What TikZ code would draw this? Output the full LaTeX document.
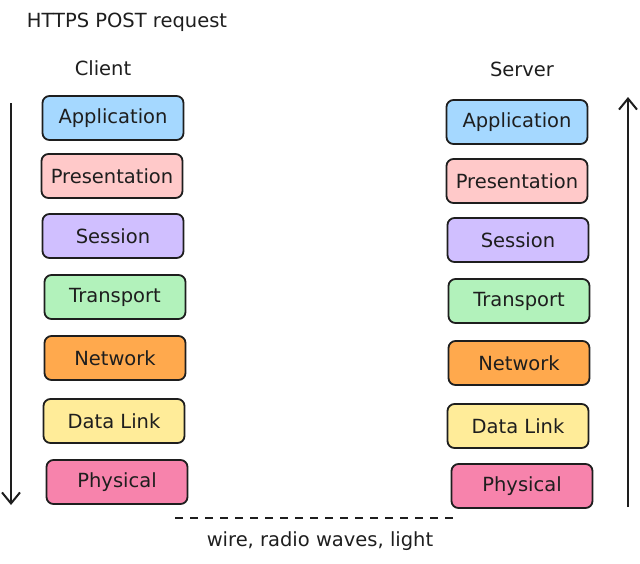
\documentclass[tikz,border=0pt]{standalone}
\usepackage{fontspec}
\setmainfont{DejaVu Sans}
\usetikzlibrary{arrows.meta}

\definecolor{ink}{HTML}{1E1E1E}
\definecolor{appblue}{HTML}{A5D8FF}
\definecolor{prespink}{HTML}{FFC9C9}
\definecolor{sesspurple}{HTML}{D0BFFF}
\definecolor{transgreen}{HTML}{B2F2BB}
\definecolor{netorange}{HTML}{FFA94D}
\definecolor{linkyellow}{HTML}{FFEC99}
\definecolor{physpink}{HTML}{F783AC}

\tikzset{
    layer/.style={draw=ink, line width=1.8pt, rounded corners=7pt,
        minimum width=141pt, minimum height=44pt,
        font=\fontsize{19.5}{22}\selectfont, text=ink},
    caption/.style={font=\fontsize{19.5}{22}\selectfont, text=ink},
    flow/.style={draw=ink, line width=2pt, -{Straight Barb[length=11pt,width=18pt,line width=2pt]}}
}

\begin{document}
\begin{tikzpicture}[x=1pt,y=-1pt]
    \useasboundingbox (0,0) rectangle (640,563);

    \node[caption] (title) at (127,22) {HTTPS POST request};
    \node[caption] (client) at (103,68) {Client};
    \node[caption] (server) at (522,69) {Server};

    % client stack
    \node[layer, fill=appblue] (cApp) at (113,118) {Application};
    \node[layer, fill=prespink] (cPres) at (112,176) {Presentation};
    \node[layer, fill=sesspurple] (cSess) at (113,236) {Session};
    \node[layer, fill=transgreen] (cTrans) at (115,297) {Transport};
    \node[layer, fill=netorange] (cNet) at (115,358) {Network};
    \node[layer, fill=linkyellow] (cLink) at (114,421) {Data Link};
    \node[layer, fill=physpink] (cPhys) at (117,482) {Physical};

    % server stack
    \node[layer, fill=appblue] (sApp) at (517,122) {Application};
    \node[layer, fill=prespink] (sPres) at (517,181) {Presentation};
    \node[layer, fill=sesspurple] (sSess) at (518,240) {Session};
    \node[layer, fill=transgreen] (sTrans) at (519,301) {Transport};
    \node[layer, fill=netorange] (sNet) at (519,363) {Network};
    \node[layer, fill=linkyellow] (sLink) at (518,426) {Data Link};
    \node[layer, fill=physpink] (sPhys) at (522,486) {Physical};

    % direction of travel
    \coordinate (downTop) at (11,103);
    \coordinate (downEnd) at (11,505);
    \coordinate (upStart) at (628,507);
    \coordinate (upEnd) at (628,97);
    \draw[flow] (downTop) -- (downEnd);
    \draw[flow] (upStart) -- (upEnd);

    % medium
    \coordinate (wireA) at (175,518);
    \coordinate (wireB) at (456,518);
    \draw[draw=ink, line width=1.8pt, dash pattern=on 8pt off 7pt] (wireA) -- (wireB);
    \node[caption] (medium) at (320,541) {wire, radio waves, light};

\end{tikzpicture}
\end{document}
